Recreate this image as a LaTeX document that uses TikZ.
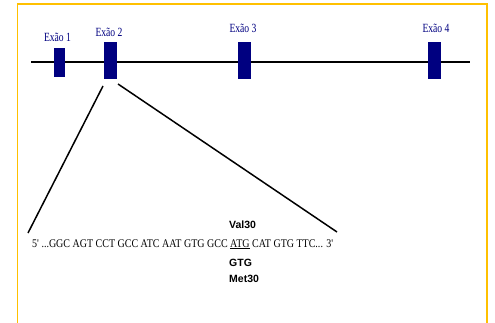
\documentclass[tikz,border=0pt]{standalone}
\usepackage{fontspec}
\setmainfont{Liberation Serif}
\newfontfamily\exonfont[FakeStretch=0.77]{Liberation Serif}
\newfontfamily\seqfont[FakeStretch=0.855,Ligatures=NoCommon]{Liberation Serif}
\newfontfamily\labelsans{Liberation Sans}
\definecolor{exonblue}{HTML}{000080}
\definecolor{frameyellow}{HTML}{FFC000}
\begin{document}
\begin{tikzpicture}[x=1pt,y=-1pt,
  exon/.style={fill=exonblue,draw=none},
  exonlabel/.style={text=exonblue,font=\exonfont\fontsize{12.5}{13}\selectfont,inner sep=0pt,anchor=base},
  seq/.style={font=\seqfont\fontsize{11.7}{13}\selectfont,inner sep=0pt},
  aminolabel/.style={font=\labelsans\bfseries\fontsize{10.5}{12}\selectfont,inner sep=0pt},
  zoomline/.style={line width=1.5pt,black}]
\useasboundingbox (0,0) rectangle (495,323);
% frame, open at the bottom
\draw[frameyellow,line width=1.6pt] (17.5,330) -- (17.5,4) -- (487,4) -- (487,330);
% gene backbone
\coordinate (lineL) at (31,62);
\coordinate (lineR) at (470,62);
\draw[line width=1.5pt] (lineL) -- (lineR);
% exons and their labels
\path[exon] (54,48) rectangle (65,77);
\node[exonlabel] (l1) at (57.5,41.5) {Exão 1};
\path[exon] (104,42) rectangle (117,79);
\node[exonlabel] (l2) at (109,37) {Exão 2};
\path[exon] (238,42) rectangle (251,79);
\node[exonlabel] (l3) at (243,33) {Exão 3};
\path[exon] (428,42) rectangle (441,79);
\node[exonlabel] (l4) at (436,33) {Exão 4};
% zoom-in lines from exon 2 to the sequence
\coordinate (e2L) at (103,86);
\coordinate (e2R) at (118,84);
\coordinate (sL) at (28,233);
\coordinate (sR) at (337,232);
\draw[zoomline] (e2L) -- (sL);
\draw[zoomline] (e2R) -- (sR);
% sequence and codon change
\node[seq,anchor=base west] (seqtext) at (32,247) {5\char"27{} ...GGC AGT CCT GCC ATC AAT GTG GCC \underline{ATG} CAT GTG TTC... 3\char"27};
\node[aminolabel,anchor=base west] (val) at (229,228) {Val30};
\node[aminolabel,anchor=base west] (gtg) at (229,266) {GTG};
\node[aminolabel,anchor=base west] (met) at (229,282) {Met30};
\end{tikzpicture}
\end{document}
